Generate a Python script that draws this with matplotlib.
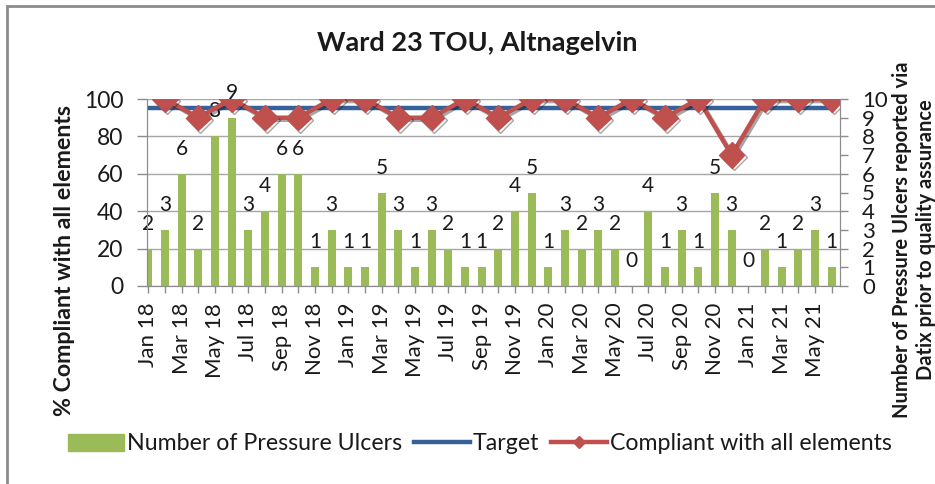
import numpy as np
import matplotlib
matplotlib.use("Agg")
import matplotlib.pyplot as plt
from matplotlib.patches import Rectangle
from matplotlib.ticker import MultipleLocator
import matplotlib.patheffects as pe

plt.rcParams['font.family'] = ['Lato', 'DejaVu Sans']

months = ['Jan 18', 'Feb 18', 'Mar 18', 'Apr 18', 'May 18', 'Jun 18',
          'Jul 18', 'Aug 18', 'Sep 18', 'Oct 18', 'Nov 18', 'Dec 18',
          'Jan 19', 'Feb 19', 'Mar 19', 'Apr 19', 'May 19', 'Jun 19',
          'Jul 19', 'Aug 19', 'Sep 19', 'Oct 19', 'Nov 19', 'Dec 19',
          'Jan 20', 'Feb 20', 'Mar 20', 'Apr 20', 'May 20', 'Jun 20',
          'Jul 20', 'Aug 20', 'Sep 20', 'Oct 20', 'Nov 20', 'Dec 20',
          'Jan 21', 'Feb 21', 'Mar 21', 'Apr 21', 'May 21', 'Jun 21']

# pressure ulcers reported each month
ulcers = [2, 3, 6, 2, 8, 9, 3, 4, 6, 6, 1, 3,
          1, 1, 5, 3, 1, 3, 2, 1, 1, 2, 4, 5,
          1, 3, 2, 3, 2, 0, 4, 1, 3, 1, 5, 3,
          0, 2, 1, 2, 3, 1]

# audit only every second month
nan = np.nan
compliant = [nan, 100, nan, 90, nan, 100, nan, 90, nan, 90, nan, 100,
             nan, 100, nan, 90, nan, 90, nan, 100, nan, 90, nan, 100,
             nan, 100, nan, 90, nan, 100, nan, 90, nan, 100, nan, 70,
             nan, 100, nan, 100, nan, 100]

target = [95] * len(months)

green = '#9BBB59'
red = '#C0504D'
blue = '#36609A'
grey = '#8C8C8C'
txt = '#1A1A1A'

fig = plt.figure(figsize=(9.35, 4.84), dpi=100)
ax = fig.add_axes([147 / 935, 1 - 286 / 484, 693 / 935, 187 / 484])
ax2 = ax.twinx()

x = np.arange(len(months))

# bars on the right hand axis
ax2.bar(x, ulcers, width=0.47, color=green, zorder=2)
for i, v in enumerate(ulcers):
    ax2.annotate(str(v), (i, v), xytext=(0, 18), textcoords='offset points',
                 ha='center', va='center', fontsize=15, color=txt)
ax2.set_ylim(0, 10)
ax2.yaxis.set_major_locator(MultipleLocator(1))
ax2.yaxis.set_minor_locator(MultipleLocator(2))
ax2.yaxis.remove_overlapping_locs = False
ax2.grid(which='minor', axis='y', color='#A6A6A6', linewidth=1, zorder=0)
ax2.set_axisbelow(True)
ax2.tick_params(axis='y', which='major', direction='out', length=6, width=1,
                color=grey, labelsize=16, labelcolor=txt, pad=10)
ax2.tick_params(axis='y', which='minor', length=0)

# compliance line and target on the left axis, drawn above the bars
ax.set_zorder(ax2.get_zorder() + 1)
ax.patch.set_visible(False)
comp = np.array(compliant, dtype=float)
ok = ~np.isnan(comp)
ax.plot(x, target, color=blue, linewidth=3.2, solid_capstyle='butt', zorder=2)
ax.plot(x[ok], comp[ok], color=red, linewidth=3.2, marker='D', markersize=13,
        markeredgecolor=red, zorder=3,
        path_effects=[pe.SimpleLineShadow(offset=(1.5, -1.5), alpha=0.35),
                      pe.Normal()])
ax.set_ylim(0, 100)
ax.set_yticks(range(0, 101, 20))
ax.set_xlim(-0.08, 41.5)
ax.set_xticks(x)
ax.set_xticklabels([m if i % 2 == 0 else '' for i, m in enumerate(months)],
                   rotation=90)
ax.tick_params(axis='x', direction='out', length=5, width=1, color=grey,
               labelsize=16, labelcolor=txt, pad=7)
ax.tick_params(axis='y', direction='out', length=7, width=1, color=grey,
               labelsize=16.5, labelcolor=txt, pad=10)

for a in (ax, ax2):
    a.spines['top'].set_visible(False)
    for s in ('left', 'right', 'bottom'):
        a.spines[s].set_color(grey)

fig.text(477 / 935, 1 - 43 / 484, 'Ward 23 TOU, Altnagelvin', ha='center',
         va='center', fontsize=19.5, fontweight='bold', color=txt)
fig.text(65 / 935, 1 - 260 / 484, '% Compliant with all elements',
         rotation=90, ha='center', va='center', fontsize=16.7,
         fontweight='bold', color=txt)
fig.text(914 / 935, 1 - 240 / 484,
         'Number of Pressure Ulcers reported via\nDatix prior to quality assurance',
         rotation=90, ha='center', va='center', fontsize=14.5,
         fontweight='bold', color=txt, linespacing=1.2)

h1 = Rectangle((0, 0), 1, 1, color=green)
h2 = plt.Line2D([], [], color=blue, linewidth=3.2)
h3 = plt.Line2D([], [], color=red, linewidth=3.2, marker='D', markersize=6)
fig.legend([h1, h2, h3],
           ['Number of Pressure Ulcers', 'Target', 'Compliant with all elements'],
           loc='center', bbox_to_anchor=(480 / 935, 1 - 444 / 484), ncol=3,
           frameon=False, fontsize=16.7, handlelength=2.4, handletextpad=0.15,
           columnspacing=0.5, labelcolor=txt)

# chart border
fig.add_artist(Rectangle((7 / 935, -0.05), 1.0, 1 - 6 / 484 + 0.05,
                         transform=fig.transFigure, fill=False,
                         edgecolor='#8C8C8C', linewidth=2))

fig.savefig('out.png', dpi=100)
